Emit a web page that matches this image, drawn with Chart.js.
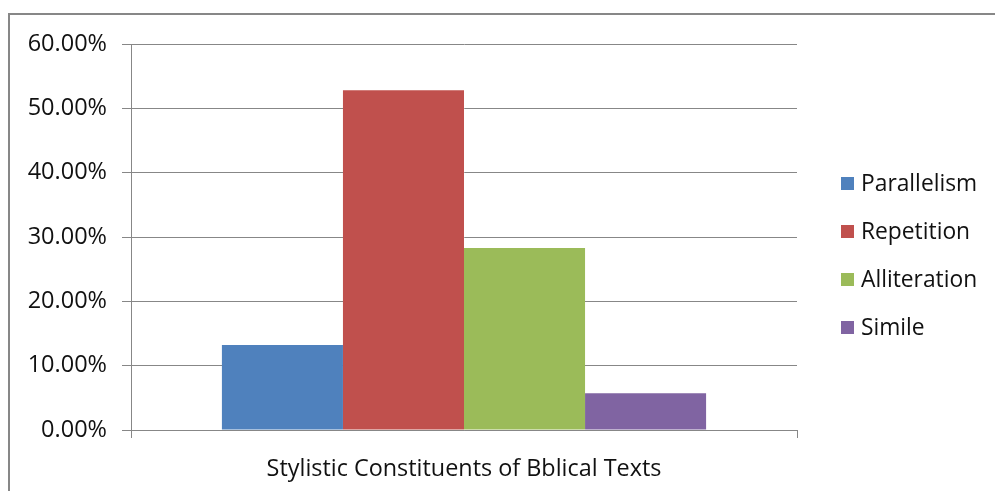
<!DOCTYPE html>
<html>
<head>
<meta charset="utf-8">
<script src="https://cdn.jsdelivr.net/npm/chart.js@4.4.1/dist/chart.umd.min.js"></script>
<style>
    html, body { margin: 0; padding: 0; background: #fff; }
    #grafico { display: block; }
</style>
</head>
<body>
<canvas id="grafico" width="995" height="491"></canvas>
<script>
// datos
const categorias = ['Stylistic Constituents of Bblical Texts'];
const series = ['Parallelism', 'Repetition', 'Alliteration', 'Simile'];
const valores = [13.2, 52.8, 28.3, 5.7];
const colores = ['#4F81BD', '#C0504D', '#9BBB59', '#8064A2'];
const marcasY = [0, 10, 20, 30, 40, 50, 60];

const fuente = "'Open Sans', sans-serif";
const gris = '#878787';
const texto = '#111';

// borde del area del grafico y leyenda a la derecha
const marcoYLeyenda = {
    id: 'marcoYLeyenda',
    afterDraw(chart) {
        const ctx = chart.ctx;
        ctx.save();
        ctx.strokeStyle = gris;
        ctx.lineWidth = 2;
        ctx.beginPath();
        ctx.moveTo(9, 500);
        ctx.lineTo(9, 14);
        ctx.lineTo(1000, 14);
        ctx.stroke();

        ctx.font = '22.8px ' + fuente;
        ctx.textBaseline = 'middle';
        chart.data.datasets.forEach((ds, i) => {
            const y = 183 + i * 48;
            ctx.fillStyle = ds.backgroundColor;
            ctx.fillRect(841, y - 6, 13, 13);
            ctx.fillStyle = texto;
            ctx.fillText(ds.label, 861, y + 2);
        });
        ctx.restore();
    }
};

const datasets = series.map((nombre, i) => ({
    label: nombre,
    data: [valores[i]],
    backgroundColor: colores[i],
    borderWidth: 0,
    barPercentage: 1,
    categoryPercentage: 0.727
}));

new Chart(document.getElementById('grafico').getContext('2d'), {
    type: 'bar',
    data: { labels: categorias, datasets: datasets },
    plugins: [marcoYLeyenda],
    options: {
        responsive: false,
        animation: false,
        layout: { padding: { left: 0, top: 44, right: 198, bottom: 0 } },
        plugins: {
            legend: { display: false },
            tooltip: { enabled: false }
        },
        scales: {
            x: {
                offset: true,
                afterFit: (scale) => { scale.height = 61; },
                grid: {
                    offset: true,
                    drawOnChartArea: false,
                    drawTicks: true,
                    tickLength: 8,
                    color: gris
                },
                border: { color: gris, width: 1 },
                ticks: {
                    font: { family: fuente, size: 23.4 },
                    color: texto,
                    padding: 17
                }
            },
            y: {
                min: 0,
                max: 60,
                afterFit: (scale) => { scale.width = 131; },
                afterBuildTicks: (scale) => { scale.ticks = marcasY.map(v => ({ value: v })); },
                grid: {
                    color: gris,
                    tickLength: 9,
                    drawTicks: true
                },
                border: { color: gris, width: 1 },
                ticks: {
                    font: { family: fuente, size: 23.5 },
                    color: texto,
                    padding: 15,
                    callback: (v) => v.toFixed(2) + '%'
                }
            }
        }
    }
});
</script>
</body>
</html>
